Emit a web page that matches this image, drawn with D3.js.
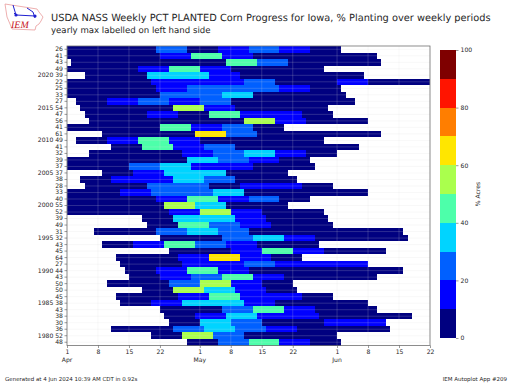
<!DOCTYPE html>
<html lang="en">
<head>
    <meta charset="UTF-8">
    <title>USDA NASS Weekly PCT PLANTED</title>
    <script src="https://d3js.org/d3.v7.min.js"></script>
    <style>
        html, body { margin: 0; padding: 0; background: #fff; }
        svg { display: block; opacity: 0.999; }
        text { font-family: "DejaVu Sans", sans-serif; fill: #262626; text-rendering: geometricPrecision; }
        .axis text { font-size: 6.1px; fill: #262626; }
        .axis line { stroke: #555; stroke-width: 0.6px; }
        .axis path { display: none; }
    </style>
</head>
<body>
    <svg width="512" height="384"></svg>
    <script>
        // top row is 2024, bottom row is 1979
        var years = d3.range(2024, 1978, -1);

        // day since Apr 1 where the first weekly cell of each year starts
        var firstWeek = [-1, 0, 1, -5, 4, -2, -1, 0, 2, 3, 4, 5, 0, 8, 2, 10, 5, -1, 0, 8, 3, 4, -2,
            -1, -6, -5, 17, 18, 6, 21, 8, 23, 11, 12, 13, 14, 9, 17, 11, 12, 21, 22, 23, 10, 19, 27];

        // percent of acres planted per week, one list per year
        var weeklyPct = [
            [2, 3, 5, 26, 6, 14, 24, 12, 4],
            [1, 3, 6, 12, 41, 16, 8, 7, 4, 2],
            [1, 2, 3, 4, 8, 43, 26, 8, 3, 2],
            [0, 1, 2, 14, 49, 15, 8, 5, 3],
            [2, 4, 39, 31, 12, 6, 3, 2, 1],
            [0, 1, 2, 11, 14, 16, 22, 9, 5, 10, 6, 4],
            [0, 1, 3, 14, 25, 21, 22, 10, 4],
            [0, 1, 3, 21, 27, 33, 8, 5, 2],
            [4, 13, 27, 19, 21, 8, 4, 2, 1],
            [1, 3, 9, 54, 18, 8, 4, 1],
            [1, 2, 11, 8, 47, 14, 12, 5],
            [0, 1, 2, 3, 6, 56, 18, 9, 5],
            [1, 2, 9, 41, 17, 22, 8],
            [1, 2, 6, 61, 21, 4, 2, 2, 1],
            [3, 14, 49, 19, 6, 5, 2, 1],
            [5, 41, 14, 25, 7, 4, 2, 2],
            [0, 2, 5, 13, 22, 32, 18, 8],
            [0, 1, 3, 6, 39, 29, 15, 7],
            [1, 4, 21, 37, 19, 10, 6, 2],
            [3, 14, 37, 35, 8, 3],
            [4, 16, 14, 38, 21, 5, 2],
            [1, 3, 28, 25, 9, 15, 13, 6],
            [0, 2, 11, 22, 26, 33, 3, 2, 1, 0],
            [0, 1, 3, 12, 40, 17, 21, 6],
            [0, 1, 3, 4, 55, 32, 3, 2],
            [0, 1, 2, 4, 19, 52, 12, 6, 4],
            [5, 39, 33, 15, 6, 2],
            [8, 49, 21, 14, 6, 2],
            [1, 3, 22, 31, 24, 7, 5, 4, 2, 1],
            [2, 6, 24, 32, 19, 9, 5, 3],
            [2, 12, 43, 24, 12, 5, 2],
            [1, 6, 19, 45, 17, 8, 4],
            [1, 3, 14, 64, 12, 6],
            [1, 3, 12, 16, 27, 18, 13, 10],
            [5, 13, 44, 18, 8, 5, 4, 2, 1],
            [6, 13, 22, 43, 10, 3, 2, 1],
            [1, 5, 27, 50, 13, 4],
            [3, 50, 33, 11, 3],
            [1, 4, 13, 45, 18, 14, 5],
            [3, 14, 38, 30, 10, 3, 1, 1],
            [1, 7, 24, 43, 16, 6, 3],
            [3, 14, 38, 18, 12, 8, 4, 3],
            [2, 30, 27, 7, 5, 14, 15],
            [1, 4, 23, 36, 21, 11, 2, 1, 1],
            [6, 52, 26, 8, 5, 3],
            [5, 23, 48, 16, 8]
        ];

        var xTickDays = [0, 7, 14, 21, 30, 37, 44, 51, 61, 68, 75, 82];
        var xTickLabels = ["1", "8", "15", "22", "1", "8", "15", "22", "1", "8", "15", "22"];
        var monthDays = [0, 30, 61];
        var monthNames = ["Apr", "May", "Jun"];

        var levels = [10, 20, 30, 40, 50, 60, 70, 80, 90];
        var colors = ["#000080", "#0000ff", "#0060ff", "#00d4ff", "#4dffaa",
            "#aaff4d", "#ffe600", "#ff7e00", "#ff1400", "#7f0000"];
        var barTicks = [0, 20, 40, 60, 80, 100];

        var svg = d3.select("svg");

        var x = d3.scaleLinear().domain([0, 82]).range([67, 430]).clamp(true),
            y = d3.scaleBand().domain(years).range([46, 345.5]),
            color = d3.scaleThreshold().domain(levels).range(colors);

        // one rect per reported week
        var rows = svg.append("g").selectAll("g")
            .data(years)
          .enter().append("g");

        rows.selectAll("rect")
            .data(function(d, i) {
                return weeklyPct[i].map(function(v, j) {
                    return {year: d, start: firstWeek[i] + j * 7, value: v};
                });
            })
          .enter().append("rect")
            .attr("x", function(d) { return x(d.start); })
            .attr("y", function(d) { return y(d.year); })
            .attr("width", function(d) { return x(d.start + 7) - x(d.start); })
            .attr("height", y.bandwidth())
            .attr("shape-rendering", "crispEdges")
            .attr("fill", function(d) { return color(d.value); });

        // faint grid over the cells
        var grid = svg.append("g")
            .attr("stroke", "#dddddd")
            .attr("stroke-opacity", 0.25)
            .attr("stroke-width", 0.8);
        grid.selectAll(".gx")
            .data(xTickDays)
          .enter().append("line")
            .attr("x1", function(d) { return x(d); })
            .attr("x2", function(d) { return x(d); })
            .attr("y1", 46)
            .attr("y2", 345.5);
        grid.selectAll(".gy")
            .data(years)
          .enter().append("line")
            .attr("x1", 67)
            .attr("x2", 430)
            .attr("y1", function(d) { return y(d) + y.bandwidth() / 2; })
            .attr("y2", function(d) { return y(d) + y.bandwidth() / 2; });

        svg.append("rect")
            .attr("x", 67)
            .attr("y", 46)
            .attr("width", 363)
            .attr("height", 299.5)
            .attr("fill", "none")
            .attr("stroke", "#707070")
            .attr("stroke-width", 0.8);

        // x axis, days then months
        svg.append("g")
            .attr("class", "axis")
            .attr("transform", "translate(0,345.5)")
            .call(d3.axisBottom(x)
                .tickValues(xTickDays)
                .tickSize(2.5)
                .tickPadding(1.5)
                .tickFormat(function(d, i) { return xTickLabels[i]; }));

        svg.append("g").selectAll("text")
            .data(monthDays)
          .enter().append("text")
            .attr("x", function(d) { return x(d); })
            .attr("y", 362)
            .attr("text-anchor", "middle")
            .attr("font-size", 6.1)
            .text(function(d, i) { return monthNames[i]; });

        // y axis, max of the year plus the year every fifth row
        svg.append("g")
            .attr("class", "axis")
            .attr("transform", "translate(67,0)")
            .call(d3.axisLeft(y)
                .tickSize(2.5)
                .tickPadding(1.5)
                .tickFormat(function(d, i) {
                    var m = d3.max(weeklyPct[i]);
                    return d % 5 === 0 ? d + " " + m : m;
                }));

        // colorbar
        var barY = d3.scaleLinear().domain([0, 100]).range([338, 50]);
        var edges = [0].concat(levels, [100]);

        svg.append("g").selectAll("rect")
            .data(colors)
          .enter().append("rect")
            .attr("x", 440)
            .attr("width", 16)
            .attr("y", function(d, i) { return barY(edges[i + 1]); })
            .attr("height", function(d, i) { return barY(edges[i]) - barY(edges[i + 1]); })
            .attr("shape-rendering", "crispEdges")
            .attr("fill", function(d) { return d; });

        svg.append("g")
            .attr("class", "axis")
            .attr("transform", "translate(456,0)")
            .call(d3.axisRight(barY).tickValues(barTicks).tickSize(2.5).tickPadding(2));

        svg.append("text")
            .attr("transform", "translate(480,194) rotate(-90)")
            .attr("text-anchor", "middle")
            .attr("font-size", 6.1)
            .text("% Acres");

        // titles and footer
        svg.append("text")
            .attr("x", 51)
            .attr("y", 20.5)
            .attr("font-size", 9.8)
            .text("USDA NASS Weekly PCT PLANTED Corn Progress for Iowa, % Planting over weekly periods");
        svg.append("text")
            .attr("x", 51)
            .attr("y", 33)
            .attr("font-size", 8.6)
            .text("yearly max labelled on left hand side");
        svg.append("text")
            .attr("x", 5)
            .attr("y", 381)
            .attr("font-size", 5.5)
            .text("Generated at 4 Jun 2024 10:39 AM CDT in 0.92s");
        svg.append("text")
            .attr("x", 507)
            .attr("y", 381)
            .attr("text-anchor", "end")
            .attr("font-size", 5.5)
            .text("IEM Autoplot App #209");

        // IEM logo, state outline with the network drawn in blue
        var logo = svg.append("g");
        logo.append("path")
            .attr("d", "M5,4 L37,9 L39,12 L43,17 L41,21 L39,24 L36,26 L35,30 L12,29 L10,24 L7,17 Z")
            .attr("fill", "#fff")
            .attr("stroke", "#e89a9a")
            .attr("stroke-width", 0.8);
        logo.append("path")
            .attr("d", "M13,5 L16,15 L35,16 M27,8 L33,12 L35,18 M14,13 L16,15")
            .attr("fill", "none")
            .attr("stroke", "#1f1fd0")
            .attr("stroke-width", 1);
        logo.selectAll("circle")
            .data([[16, 15], [35, 16]])
          .enter().append("circle")
            .attr("cx", function(d) { return d[0]; })
            .attr("cy", function(d) { return d[1]; })
            .attr("r", 1.6)
            .attr("fill", "#1f1fd0");
        logo.append("text")
            .attr("x", 11)
            .attr("y", 28)
            .attr("font-size", 10)
            .attr("font-style", "italic")
            .style("font-family", "'Liberation Serif', serif")
            .style("fill", "#c8141e")
            .text("IEM");
    </script>
</body>
</html>
